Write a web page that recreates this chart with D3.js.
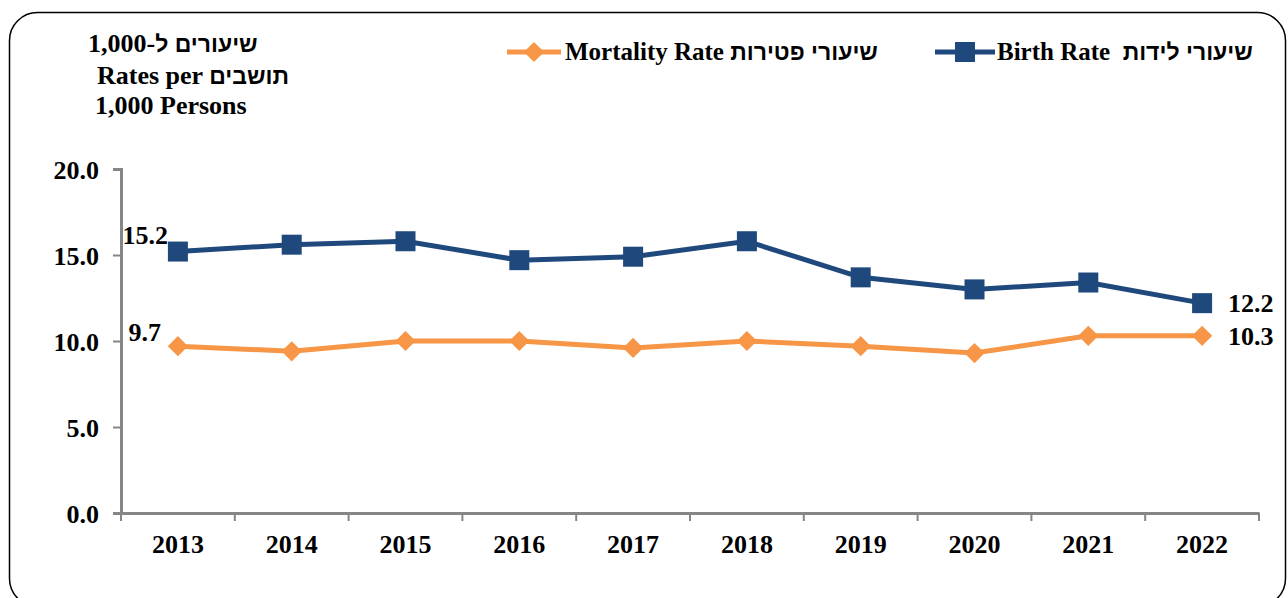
<!DOCTYPE html>
<html>
<head>
<meta charset="utf-8">
<script src="https://cdn.jsdelivr.net/npm/d3@7"></script>
<style>
  body { margin: 0; background: #fff; }
  text { font-family: "Liberation Serif", "Times New Roman", serif; font-weight: bold; fill: #000; white-space: pre; }
  tspan.he { font-family: "Liberation Sans", Arial, sans-serif; font-weight: bold; font-size: 23px; }
</style>
</head>
<body>
<svg id="chart"></svg>
<script>
var years = ["2013", "2014", "2015", "2016", "2017", "2018", "2019", "2020", "2021", "2022"];
var birthRate = [15.2, 15.6, 15.8, 14.7, 14.9, 15.8, 13.7, 13.0, 13.4, 12.2];
var mortalityRate = [9.7, 9.4, 10.0, 10.0, 9.6, 10.0, 9.7, 9.3, 10.3, 10.3];
var yTicks = [0, 5, 10, 15, 20];
var titleLines = ["שיעורים ל-1,000", "Rates per תושבים", "1,000 Persons"];
var birthLabel = "Birth Rate  שיעורי לידות";
var mortalityLabel = "Mortality Rate שיעורי פטירות";

var W = 1288, H = 598;
var blue = "#1f497d", orange = "#f79646", grey = "#868686";

var svg = d3.select("svg#chart").attr("width", W).attr("height", H)
  .style("display", "block");

// hebrew parts in a sans font, the rest in serif
function mixedText(sel, str) {
  var parts = str.split(/([\u0590-\u05FF]+(?: [\u0590-\u05FF]+)*)/);
  parts.forEach(function(p) {
    if (!p) return;
    var t = sel.append("tspan").text(p);
    if (/[\u0590-\u05FF]/.test(p)) t.attr("class", "he");
  });
}

// frame
svg.append("rect")
  .attr("x", 9.5).attr("y", 12.5)
  .attr("width", 1276).attr("height", 594)
  .attr("rx", 28).attr("ry", 28)
  .attr("fill", "none").attr("stroke", "#000").attr("stroke-width", 1.5);

var x = d3.scaleBand().domain(years).range([121, 1259]);
var y = d3.scaleLinear().domain([0, 20]).range([513, 169]);

// axes
var yAxis = svg.append("g").attr("transform", "translate(121,0)")
  .call(d3.axisLeft(y).tickValues(yTicks).tickSize(8).tickPadding(14)
    .tickFormat(d3.format(".1f")));
var xAxis = svg.append("g").attr("transform", "translate(0,513)")
  .call(d3.axisBottom(x).tickSize(0).tickPadding(22));

[yAxis, xAxis].forEach(function(g) {
  g.select(".domain").attr("stroke", grey).attr("stroke-width", 3);
  g.selectAll(".tick line").attr("stroke", grey).attr("stroke-width", 2);
  g.selectAll("text").attr("font-size", 26)
    .attr("font-family", "Liberation Serif, serif").attr("font-weight", "bold").attr("fill", "#000");
});
yAxis.selectAll("text").attr("dy", "0.35em");

// x tick marks at category boundaries
var bounds = years.map(function(d) { return x(d); }).concat([x.range()[1]]);
xAxis.selectAll(".bound").data(bounds).enter().append("line")
  .attr("x1", function(d) { return d; }).attr("x2", function(d) { return d; })
  .attr("y1", 0).attr("y2", 8)
  .attr("stroke", grey).attr("stroke-width", 2);

var cx = function(d, i) { return x(years[i]) + x.bandwidth() / 2; };

var line = d3.line()
  .x(function(d, i) { return cx(d, i); })
  .y(function(d) { return y(d); });

// mortality
svg.append("path").datum(mortalityRate)
  .attr("d", line).attr("fill", "none")
  .attr("stroke", orange).attr("stroke-width", 5);
var diamond = d3.symbol().type(d3.symbolDiamond2).size(260);
svg.selectAll(".mort").data(mortalityRate).enter().append("path")
  .attr("d", diamond)
  .attr("transform", function(d, i) { return "translate(" + cx(d, i) + "," + y(d) + ")"; })
  .attr("fill", orange);

// birth
svg.append("path").datum(birthRate)
  .attr("d", line).attr("fill", "none")
  .attr("stroke", blue).attr("stroke-width", 5);
svg.selectAll(".birth").data(birthRate).enter().append("rect")
  .attr("x", function(d, i) { return cx(d, i) - 10; })
  .attr("y", function(d) { return y(d) - 10; })
  .attr("width", 20).attr("height", 20)
  .attr("fill", blue);

// data labels
var n = years.length;
svg.append("text").attr("x", cx(0, 0) - 10).attr("y", y(birthRate[0]) - 8)
  .attr("text-anchor", "end").attr("font-size", 26).text(birthRate[0].toFixed(1));
svg.append("text").attr("x", cx(0, 0) - 17).attr("y", y(mortalityRate[0]) - 5)
  .attr("text-anchor", "end").attr("font-size", 26).text(mortalityRate[0].toFixed(1));
svg.append("text").attr("x", cx(0, n - 1) + 26).attr("y", y(birthRate[n - 1]) + 9)
  .attr("font-size", 26).text(birthRate[n - 1].toFixed(1));
svg.append("text").attr("x", cx(0, n - 1) + 26).attr("y", y(mortalityRate[n - 1]) + 9)
  .attr("font-size", 26).text(mortalityRate[n - 1].toFixed(1));

// y title
var tx = [88, 97, 95], ty = [52, 84, 114];
svg.selectAll(".ytitle").data(titleLines).enter().append("text")
  .attr("x", function(d, i) { return tx[i]; })
  .attr("y", function(d, i) { return ty[i]; })
  .attr("font-size", 26)
  .each(function(d) { mixedText(d3.select(this), d); });

// legend
var lg = svg.append("g");
lg.append("line").attr("x1", 935).attr("x2", 995).attr("y1", 52).attr("y2", 52)
  .attr("stroke", blue).attr("stroke-width", 5);
lg.append("rect").attr("x", 955).attr("y", 42).attr("width", 20).attr("height", 20).attr("fill", blue);
lg.append("text").attr("x", 997).attr("y", 60).attr("font-size", 25)
  .call(mixedText, birthLabel);

lg.append("line").attr("x1", 507).attr("x2", 561).attr("y1", 52).attr("y2", 52)
  .attr("stroke", orange).attr("stroke-width", 5);
lg.append("path").attr("d", diamond).attr("transform", "translate(534,52)").attr("fill", orange);
lg.append("text").attr("x", 565).attr("y", 60).attr("font-size", 25)
  .call(mixedText, mortalityLabel);
</script>
</body>
</html>
